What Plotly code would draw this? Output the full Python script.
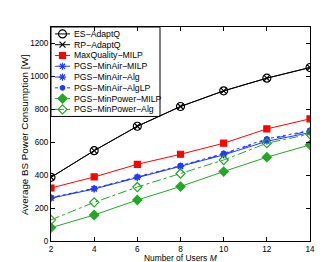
import plotly.graph_objects as go

# ---- data ----
users = [2, 4, 6, 8, 10, 12, 14]
es_adaptq = [387, 549, 697, 817, 912, 989, 1054]
rp_adaptq = [387, 549, 697, 817, 912, 989, 1054]
maxquality_milp = [322, 389, 466, 527, 594, 681, 742]
minair_milp = [260, 316, 385, 452, 523, 606, 658]
minair_alg = [262, 318, 388, 455, 528, 615, 668]
minair_alglp = [264, 320, 390, 458, 532, 620, 672]
minpower_milp = [81, 158, 249, 331, 422, 509, 584]
minpower_alg = [128, 235, 328, 410, 492, 594, 650]
x_ticks = [2, 4, 6, 8, 10, 12, 14]
y_ticks = [0, 200, 400, 600, 800, 1000, 1200]

RED = "#ff0000"
BLUE = "#1f3cff"
GREEN = "#22a822"
FONT = "Liberation Sans, Arial, sans-serif"

series = [
    ("ES−AdaptQ", es_adaptq, "black", "solid", "circle-open", 8, 1.0),
    ("RP−AdaptQ", rp_adaptq, "black", "solid", "x-thin-open", 6, 1.0),
    ("MaxQuality−MILP", maxquality_milp, RED, "solid", "square", 6, 1.0),
    ("PGS−MinAir−MILP", minair_milp, BLUE, "solid", "asterisk-open", 6, 1.0),
    ("PGS−MinAir−Alg", minair_alg, BLUE, "dash", "asterisk-open", 6, 1.0),
    ("PGS−MinAir−AlgLP", minair_alglp, BLUE, "dot", "circle", 4.5, 1.0),
    ("PGS−MinPower−MILP", minpower_milp, GREEN, "solid", "diamond", 7, 1.0),
    ("PGS−MinPower−Alg", minpower_alg, GREEN, "dashdot", "diamond-open", 7, 1.0),
]

fig = go.Figure()
for name, vals, col, dash, sym, size, lw in series:
    fig.add_trace(go.Scatter(
        x=users, y=vals, name=name, mode="lines+markers",
        line=dict(color=col, width=lw, dash=dash),
        marker=dict(symbol=sym, size=size, color=col,
                    line=dict(color=col, width=1.2)),
        showlegend=False,
    ))

# ---- custom compact legend (overlay axes 0..1) ----
L, T, PW, PH = 43, 19.3, 259, 213.4
def px(xp):
    return (xp - L) / PW
def py(yp):
    return 1 - (yp - T) / PH

row0, step = 26.2, 10.75
x_l0, x_l1, x_m = px(47), px(62), px(54.5)
annots = []
for i, (name, vals, col, dash, sym, size, lw) in enumerate(series):
    yy = py(row0 + i * step)
    fig.add_trace(go.Scatter(
        x=[x_l0, x_l1], y=[yy, yy], mode="lines", xaxis="x2", yaxis="y2",
        line=dict(color=col, width=lw, dash=dash), showlegend=False,
        hoverinfo="skip"))
    fig.add_trace(go.Scatter(
        x=[x_m], y=[yy], mode="markers", xaxis="x2", yaxis="y2",
        marker=dict(symbol=sym, size=size, color=col,
                    line=dict(color=col, width=1.2)),
        showlegend=False, hoverinfo="skip"))
    annots.append(dict(x=px(63.5), y=yy, xref="paper", yref="paper",
                       text=name, showarrow=False, xanchor="left",
                       yanchor="middle", font=dict(size=8.7, color="black",
                                                   family=FONT)))

annots.append(dict(x=0.5, y=py(249.5), xref="paper", yref="paper",
                   text="Number of Users <i>M</i>", showarrow=False,
                   xanchor="center", yanchor="middle",
                   font=dict(size=8.4, color="black", family=FONT)))
annots.append(dict(x=px(16.5), y=py(126.5), xref="paper", yref="paper",
                   text="Average BS Power Consumption [W]", showarrow=False,
                   textangle=-90, xanchor="center", yanchor="middle",
                   font=dict(size=9.8, color="black", family=FONT)))

fig.add_shape(type="rect", xref="paper", yref="paper",
              x0=0, x1=px(152), y0=py(108.5), y1=1,
              line=dict(color="black", width=1), fillcolor="white",
              layer="below")

axis_common = dict(showline=True, linecolor="black", linewidth=1,
                   mirror="ticks", ticks="inside", ticklen=4,
                   tickcolor="black", showgrid=False, zeroline=False,
                   tickfont=dict(size=8.2, color="black", family=FONT))

fig.update_layout(
    width=334, height=262,
    margin=dict(l=43, r=32, t=19, b=29),
    paper_bgcolor="white", plot_bgcolor="white",
    xaxis=dict(range=[2, 14], tickvals=x_ticks, **axis_common),
    yaxis=dict(range=[0, 1300], tickvals=y_ticks, **axis_common),
    xaxis2=dict(range=[0, 1], overlaying="x", visible=False),
    yaxis2=dict(range=[0, 1], overlaying="y", visible=False),
    annotations=annots,
    showlegend=False,
)

fig.write_html("out.html")
